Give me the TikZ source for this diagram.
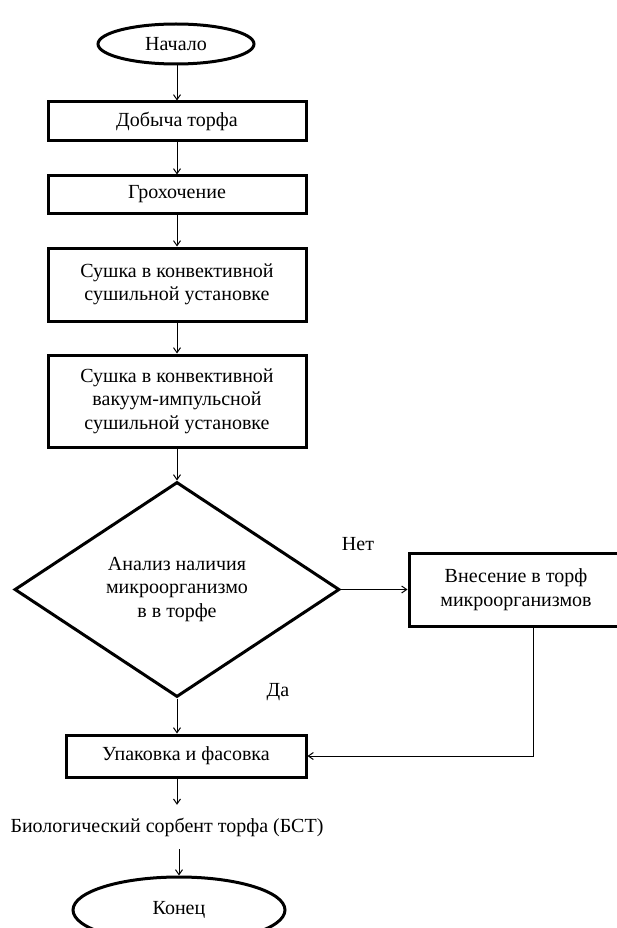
\documentclass[tikz,border=0pt]{standalone}
\usepackage{fontspec}
\setmainfont{Liberation Serif}
\usetikzlibrary{shapes.geometric,arrows.meta}
\begin{document}
\begin{tikzpicture}[x=1pt,y=-1pt,
  every node/.style={font=\fontsize{20}{23.5}\selectfont, align=center, inner sep=0pt},
  stepbox/.style={draw, line width=3pt, rectangle, minimum width=258pt},
  term/.style={draw, line width=3pt, ellipse},
  decis/.style={draw, line width=3pt, diamond, minimum width=325pt, minimum height=215pt},
  arr/.style={draw, line width=1pt, -{Straight Barb[length=5pt,width=7pt]}},
  lbl/.style={font=\fontsize{20}{23.5}\selectfont}]
\path[use as bounding box, fill=white] (0,0) rectangle (617,928);
\begin{scope}
\clip (0,0) rectangle (617,928);
\node[term, minimum width=156pt, minimum height=40pt] (start) at (176,44) {Начало};
\node[stepbox, minimum height=39pt] (b1) at (177,121.5) {Добыча торфа};
\node[stepbox, minimum height=37pt] (b2) at (177,194.5) {Грохочение};
\node[stepbox, minimum height=73pt] (b3) at (177,284.5) {Сушка в конвективной\\сушильной установке};
\node[stepbox, minimum height=92pt] (b4) at (177,401) {Сушка в конвективной\\вакуум-импульсной\\сушильной установке};
\node[decis] (dia) at (177,589.5) {Анализ наличия\\микроорганизмо\\в в торфе};
\node[stepbox, minimum width=214pt, minimum height=73pt] (ins) at (516,589.5) {Внесение в торф\\микроорганизмов};
\node[stepbox, minimum width=240pt, minimum height=42pt] (pack) at (186,756) {Упаковка и фасовка};
\node[minimum height=44pt] (bst) at (167,827) {Биологический сорбент торфа (БСТ)};
\node[term, minimum width=212pt, minimum height=66pt] (end) at (179,910) {Конец};
\node[lbl] (no) at (358,544) {Нет};
\node[lbl] (yes) at (278,692) {Да};
\path[arr] (start.south -| b1.north) -- (b1.north);
\path[arr] (b1.south) -- (b2.north);
\path[arr] (b2.south) -- (b3.north);
\path[arr] (b3.south) -- (b4.north);
\path[arr] (b4.south) -- (dia.north);
\path[arr] (dia.east) -- (ins.west);
\path[arr] (dia.south) -- (dia.south |- pack.north);
\path[arr] ([xshift=17pt]ins.south) |- (pack.east);
\path[arr] (dia.south |- pack.south) -- (dia.south |- bst.north);
\path[arr] (bst.south -| end.north) -- (end.north);
\end{scope}
\end{tikzpicture}
\end{document}
